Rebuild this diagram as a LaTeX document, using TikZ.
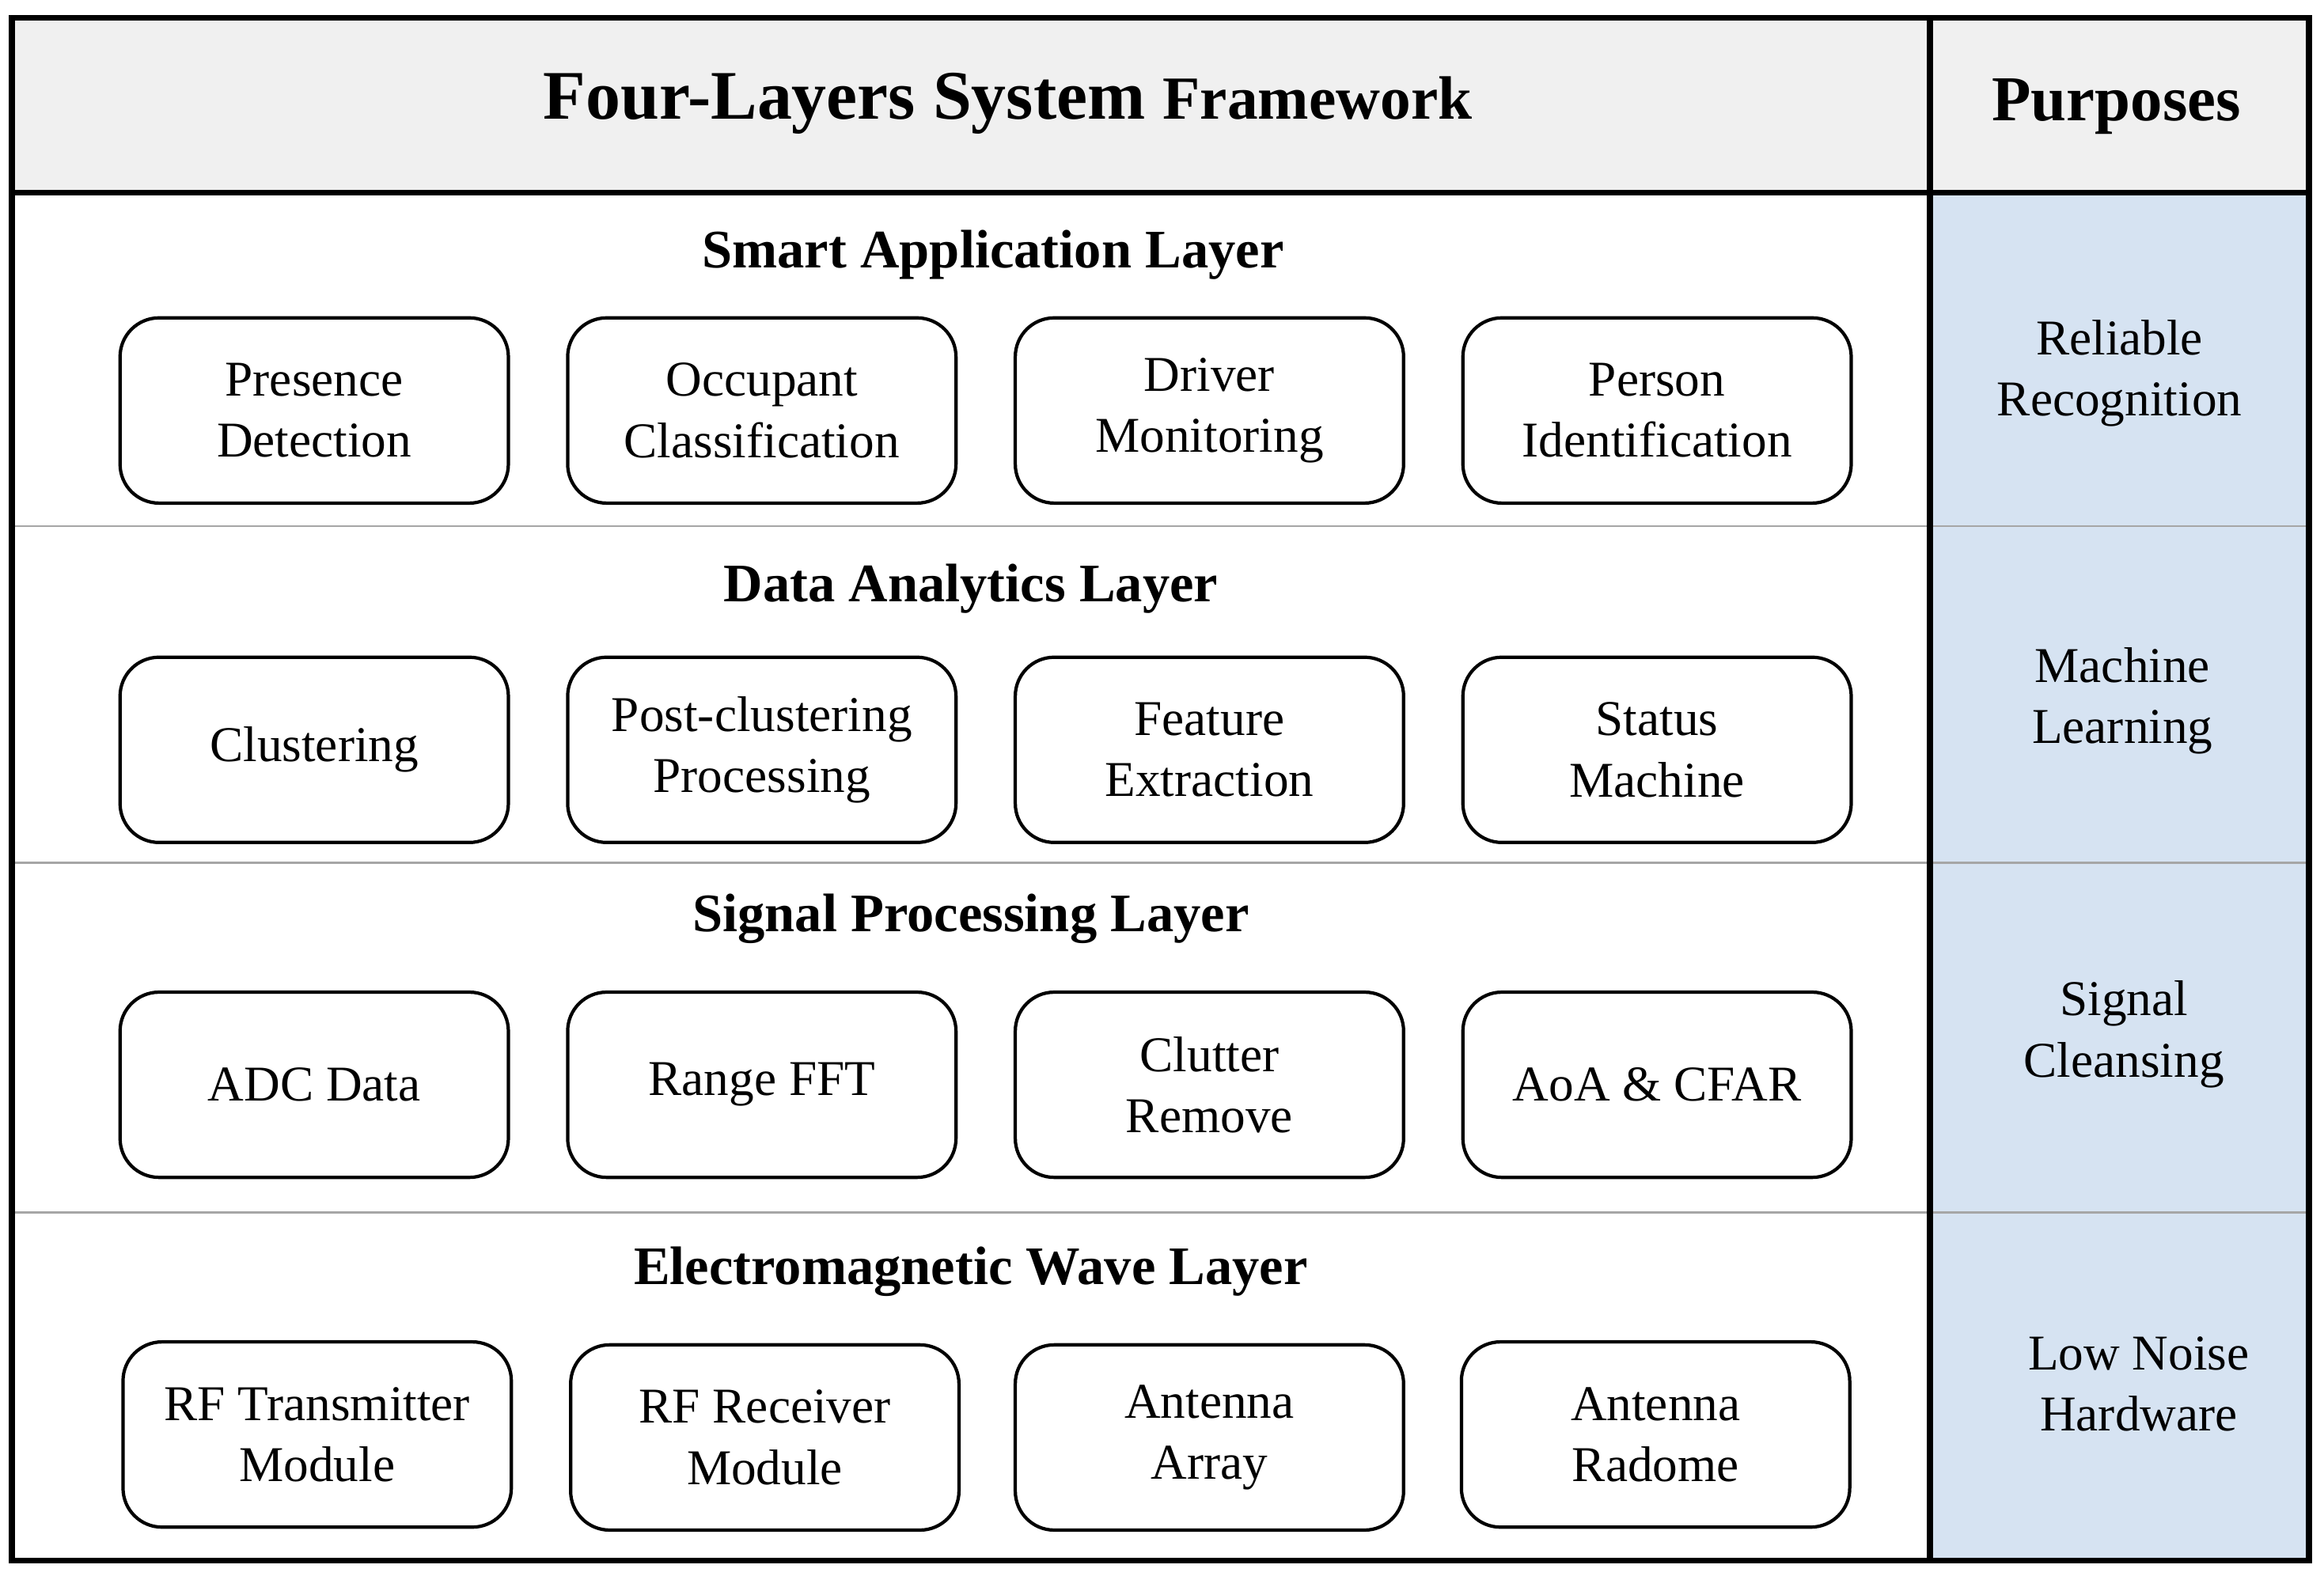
\documentclass[tikz,border=0pt]{standalone}
\usepackage{fontspec}
\setmainfont{Liberation Serif}
\begin{document}
\begin{tikzpicture}[x=0.01873cm,y=-0.01873cm,
 box/.style={draw,line width=1.2pt,rounded corners=14pt,minimum width=262*0.01873cm,minimum height=125*0.01873cm,align=center,font=\fontsize{18}{22}\selectfont},
 ttl/.style={font=\fontsize{19.5}{23}\selectfont\bfseries},
 pur/.style={align=center,font=\fontsize{18}{22}\selectfont},
 sep/.style={draw=gray!70,line width=0.8pt}]
\useasboundingbox (0,0) rectangle (1568,1063);
\fill[gray!12] (8,12) rectangle (1558,130);
\fill[fill={rgb,255:red,214;green,227;blue,242}] (1302,130) rectangle (1558,1053);
\draw[sep] (8,355) -- (1558,355);
\draw[sep] (8,582) -- (1558,582);
\draw[sep] (8,818) -- (1558,818);
\draw[line width=2.2pt] (8,130) -- (1558,130);
\draw[line width=2.2pt] (1302,12) -- (1302,1053);
\draw[line width=2.2pt] (8,12) rectangle (1558,1053);
\node[font=\bfseries] (h1) at (680,70) {\fontsize{25}{28}\selectfont Four-Layers System \fontsize{22}{26}\selectfont Framework};
\node[font=\fontsize{23}{26}\selectfont\bfseries] (h2) at (1428,72) {Purposes};
\node[ttl] (t1) at (670,172) {Smart Application Layer};
\node[ttl] (t2) at (655,397) {Data Analytics Layer};
\node[ttl] (t3) at (655,620) {Signal Processing Layer};
\node[ttl] (t4) at (655,858) {Electromagnetic Wave Layer};
\node[box] (a1) at (212,277) {Presence\\Detection};
\node[box] (a2) at (514,277) {Occupant\\Classification};
\node[box] (a3) at (816,277) {Driver\\Monitoring};
\node[box] (a4) at (1118,277) {Person\\Identification};
\node[box] (b1) at (212,506) {Clustering};
\node[box] (b2) at (514,506) {Post-clustering\\Processing};
\node[box] (b3) at (816,506) {Feature\\Extraction};
\node[box] (b4) at (1118,506) {Status\\Machine};
\node[box] (c1) at (212,732) {ADC Data};
\node[box] (c2) at (514,732) {Range FFT};
\node[box] (c3) at (816,732) {Clutter\\Remove};
\node[box] (c4) at (1118,732) {AoA \& CFAR};
\node[box] (d1) at (214,968) {RF Transmitter\\Module};
\node[box] (d2) at (516,970) {RF Receiver\\Module};
\node[box] (d3) at (816,970) {Antenna\\Array};
\node[box] (d4) at (1117,968) {Antenna\\Radome};
\node[pur] (p1) at (1430,252) {Reliable\\Recognition};
\node[pur] (p2) at (1432,473) {Machine\\Learning};
\node[pur] (p3) at (1433,698) {Signal\\Cleansing};
\node[pur] (p4) at (1443,934) {Low Noise\\Hardware};
\end{tikzpicture}
\end{document}
